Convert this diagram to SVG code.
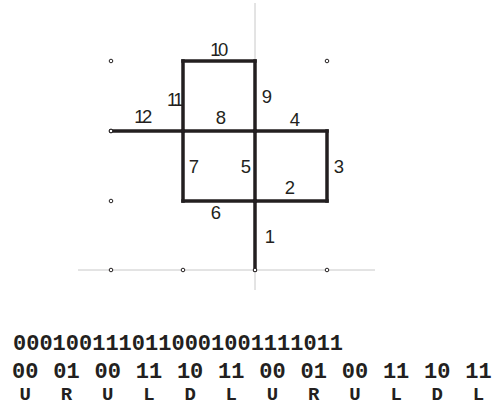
<svg xmlns="http://www.w3.org/2000/svg" width="497" height="405" viewBox="0 0 497 405">
<style>
.axis{stroke:#c8c8c8;stroke-width:1;fill:none}
.edge{stroke:#231f20;stroke-width:3.5;stroke-linecap:square;fill:none}
.pt{fill:#fff;stroke:#231f20;stroke-width:1}
.lbl{font-family:"Liberation Sans",Arial,sans-serif;font-size:18.5px;fill:#231f20;text-anchor:middle}
.tight{letter-spacing:-2.5px}
.code{font-family:"Courier New","Liberation Mono",monospace;font-weight:bold;font-size:22px;fill:#231f20}
.grp{text-anchor:middle}
.dir{font-family:"Courier New","Liberation Mono",monospace;font-weight:bold;font-size:19px;fill:#231f20;text-anchor:middle}
</style>
<rect width="497" height="405" fill="#fff"/>
<g id="axes">
<line class="axis" x1="78" y1="270" x2="375" y2="270"/>
<line class="axis" x1="255" y1="3" x2="255" y2="290"/>
</g>
<g id="grid-points">
<circle class="pt" cx="111" cy="61" r="1.8"/>
<circle class="pt" cx="327" cy="61" r="1.8"/>
<circle class="pt" cx="111" cy="131" r="1.8"/>
<circle class="pt" cx="111" cy="201" r="1.8"/>
<circle class="pt" cx="111" cy="270" r="1.8"/>
<circle class="pt" cx="183" cy="270" r="1.8"/>
<circle class="pt" cx="327" cy="270" r="1.8"/>
</g>
<g id="connectors">
<line id="e1" class="edge" x1="255" y1="270" x2="255" y2="201" stroke-width="4"/>
<line id="e2" class="edge" x1="255" y1="201" x2="327" y2="201"/>
<line id="e3" class="edge" x1="327" y1="201" x2="327" y2="131"/>
<line id="e4" class="edge" x1="327" y1="131" x2="255" y2="131"/>
<line id="e5" class="edge" x1="255" y1="131" x2="255" y2="201"/>
<line id="e6" class="edge" x1="255" y1="201" x2="183" y2="201"/>
<line id="e7" class="edge" x1="183" y1="201" x2="183" y2="131"/>
<line id="e8" class="edge" x1="183" y1="131" x2="255" y2="131"/>
<line id="e9" class="edge" x1="255" y1="131" x2="255" y2="61"/>
<line id="e10" class="edge" x1="255" y1="61" x2="183" y2="61"/>
<line id="e11" class="edge" x1="183" y1="61" x2="183" y2="131"/>
<line id="e12" class="edge" x1="183" y1="131" x2="111" y2="131"/>
<circle class="pt" cx="255" cy="270" r="1.8"/>
<circle class="pt" cx="111" cy="131" r="1.8"/>
</g>
<g id="labels">
<text class="lbl" x="270" y="243">1</text>
<text class="lbl" x="290" y="194">2</text>
<text class="lbl" x="339" y="173">3</text>
<text class="lbl" x="295" y="126">4</text>
<text class="lbl" x="246" y="173">5</text>
<text class="lbl" x="216" y="219">6</text>
<text class="lbl" x="194" y="173">7</text>
<text class="lbl" x="221" y="124">8</text>
<text class="lbl" x="267" y="103">9</text>
<text class="lbl tight" x="218" y="56">10</text>
<text class="lbl tight" x="174" y="106">11</text>
<text class="lbl tight" x="142" y="123">12</text>
</g>
<g id="code-text">
<text class="code" x="13" y="350">0001001110110001001111011</text>
<g class="code grp">
<text x="25.3" y="378">00</text>
<text x="66.5" y="378">01</text>
<text x="107.7" y="378">00</text>
<text x="148.9" y="378">11</text>
<text x="190.1" y="378">10</text>
<text x="231.3" y="378">11</text>
<text x="272.5" y="378">00</text>
<text x="313.7" y="378">01</text>
<text x="354.9" y="378">00</text>
<text x="396.1" y="378">11</text>
<text x="437.3" y="378">10</text>
<text x="478.5" y="378">11</text>
</g>
<g class="dir">
<text x="25.3" y="400">U</text>
<text x="66.5" y="400">R</text>
<text x="107.7" y="400">U</text>
<text x="148.9" y="400">L</text>
<text x="190.1" y="400">D</text>
<text x="231.3" y="400">L</text>
<text x="272.5" y="400">U</text>
<text x="313.7" y="400">R</text>
<text x="354.9" y="400">U</text>
<text x="396.1" y="400">L</text>
<text x="437.3" y="400">D</text>
<text x="478.5" y="400">L</text>
</g>
</g>
</svg>
